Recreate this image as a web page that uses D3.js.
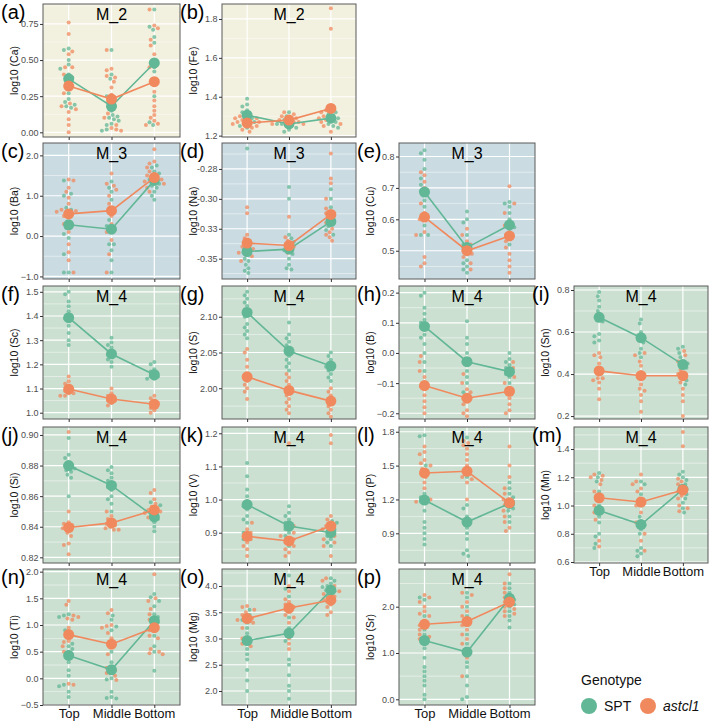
<!DOCTYPE html>
<html>
<head>
<meta charset="utf-8">
<script src="https://cdn.jsdelivr.net/npm/d3@7"></script>
<style>
  body { margin: 0; background: #fff; }
  svg { font-family: "Liberation Sans", Arial, Helvetica, sans-serif; }
</style>
</head>
<body>
<div id="chart"></div>
<script>
const cats = ["Top", "Middle", "Bottom"];
const genotypes = ["SPT", "astcl1"];

// individual samples, [Top, Middle, Bottom]; means [[SPT x3],[astcl1 x3]]
const Ca_SPT = [[0.58,0.57,0.50,0.47,0.44,0.40,0.38,0.37,0.35,0.27,0.23,0.21,0.19,0.18,0.17],
  [0.57,0.40,0.37,0.25,0.20,0.18,0.15,0.12,0.11,0.10,0.09,0.08,0.06,0.05,0.02,0.01],
  [0.85,0.73,0.71,0.66,0.62,0.50,0.48,0.45,0.42,0.37,0.33,0.25,0.07,0.05]]
const Ca_astcl1 = [[0.76,0.68,0.56,0.54,0.45,0.45,0.40,0.33,0.32,0.27,0.20,0.18,0.16,0.14,0.09,0.05,0.00],
  [0.57,0.44,0.43,0.39,0.38,0.35,0.31,0.26,0.23,0.21,0.13,0.10,0.05,0.03,0.02,0.01],
  [0.85,0.74,0.72,0.64,0.60,0.54,0.45,0.35,0.28,0.22,0.18,0.15,0.12,0.10,0.08,0.06,0.05]]
const Ca_mean = [[0.37,0.18,0.48],[0.32,0.23,0.35]]

const Fe_SPT = [[1.39,1.36,1.35,1.33,1.32,1.31,1.30,1.29,1.28,1.27,1.26,1.25,1.24],
  [1.32,1.30,1.29,1.28,1.27,1.26,1.26,1.25,1.24,1.23,1.22],
  [1.33,1.32,1.31,1.30,1.29,1.28,1.27,1.26,1.25,1.24]]
const Fe_astcl1 = [[1.30,1.29,1.29,1.28,1.27,1.27,1.26,1.26,1.25,1.24,1.23,1.22],
  [1.32,1.31,1.30,1.29,1.28,1.27,1.27,1.26,1.26,1.25],
  [1.855,1.75,1.33,1.32,1.30,1.29,1.28,1.27,1.26,1.25,1.22]]
const Fe_mean = [[1.305,1.26,1.29],[1.265,1.28,1.34]]

const Ba_SPT = [[1.38,1.05,1.0,0.7,0.65,0.3,0.2,0.05,-0.05,-0.45,-0.9,-0.9],
  [1.35,1.2,1.1,0.9,0.4,0.25,0.1,-0.2,-0.2,-0.35,-0.6,-0.9],
  [1.75,1.7,1.6,1.55,1.5,1.4,1.35,1.3,1.25,1.2,1.1,1.0,0.9]]
const Ba_astcl1 = [[1.40,1.38,1.2,1.1,0.95,0.8,0.65,0.62,0.6,0.55,0.5,0.3,0.1,-0.2,-0.4,-0.6,-0.9],
  [1.55,1.3,1.25,1.15,1.0,0.8,0.65,0.5,0.3,0.1,-0.1,-0.45,-0.9],
  [2.15,1.85,1.8,1.7,1.6,1.5,1.45,1.4,1.35,1.3,1.2,1.1]]
const Ba_mean = [[0.28,0.17,1.38],[0.55,0.63,1.45]]

const Na_SPT = [[-0.258,-0.335,-0.340,-0.342,-0.345,-0.347,-0.350,-0.352,-0.355,-0.358,-0.360,-0.362],
  [-0.290,-0.300,-0.330,-0.333,-0.336,-0.340,-0.343,-0.346,-0.350,-0.355,-0.358,-0.359],
  [-0.292,-0.300,-0.307,-0.312,-0.316,-0.320,-0.323,-0.326,-0.330]]
const Na_astcl1 = [[-0.307,-0.312,-0.330,-0.333,-0.338,-0.340,-0.342,-0.344,-0.345,-0.348,-0.352],
  [-0.315,-0.332,-0.335,-0.338,-0.340,-0.342,-0.345],
  [-0.262,-0.283,-0.287,-0.300,-0.308,-0.312,-0.315,-0.320,-0.325,-0.328,-0.330,-0.332,-0.335]]
const Na_mean = [[-0.344,-0.342,-0.319],[-0.337,-0.339,-0.313]]

const Cu_SPT = [[0.82,0.81,0.79,0.76,0.73,0.71,0.69,0.66,0.64,0.60,0.58,0.55,0.55],
  [0.625,0.60,0.59,0.55,0.52,0.51,0.49,0.47,0.46,0.45,0.44,0.43],
  [0.655,0.65,0.64,0.62,0.60,0.58,0.575,0.56,0.54,0.52]]
const Cu_astcl1 = [[0.75,0.74,0.72,0.70,0.65,0.62,0.60,0.56,0.55,0.48,0.46,0.45],
  [0.57,0.55,0.53,0.52,0.50,0.49,0.48,0.46,0.44],
  [0.705,0.65,0.62,0.58,0.55,0.53,0.51,0.49,0.47,0.45,0.43]]
const Cu_mean = [[0.687,0.51,0.582],[0.607,0.50,0.547]]

const Sc_SPT = [[1.50,1.49,1.46,1.44,1.42,1.40,1.39,1.38,1.36,1.33,1.30,1.28],
  [1.31,1.29,1.28,1.27,1.25,1.24,1.23,1.22,1.21,1.19],
  [1.21,1.20,1.18,1.17,1.16,1.15,1.15,1.14,1.14]]
const Sc_astcl1 = [[1.15,1.13,1.12,1.10,1.09,1.08,1.08,1.07,1.07],
  [1.10,1.08,1.07,1.06,1.05,1.05,1.04,1.03],
  [1.07,1.06,1.05,1.04,1.04,1.03,1.02,1.01,1.00]]
const Sc_mean = [[1.393,1.243,1.157],[1.098,1.057,1.035]]

const S_SPT = [[2.135,2.13,2.125,2.12,2.115,2.11,2.105,2.10,2.09,2.085,2.08,2.075,2.07],
  [2.092,2.075,2.07,2.065,2.06,2.055,2.05,2.045,2.04,2.035,2.03,2.025],
  [2.05,2.045,2.04,2.035,2.03,2.03,2.025,2.02,2.015,2.01]]
const S_astcl1 = [[2.055,2.05,2.04,2.03,2.02,2.015,2.01,2.005,2.00,1.995,1.985],
  [2.02,2.015,2.01,2.005,2.00,1.995,1.99,1.985,1.98,1.975,1.97,1.965],
  [2.00,1.995,1.99,1.985,1.98,1.975,1.97,1.965,1.96]]
const S_mean = [[2.106,2.052,2.031],[2.016,1.997,1.982]]

const B_SPT = [[0.20,0.19,0.15,0.13,0.11,0.10,0.08,0.06,0.05,0.03,0.00,-0.03,-0.06],
  [0.105,0.05,0.03,0.00,-0.02,-0.03,-0.04,-0.06,-0.08,-0.10,-0.13],
  [0.00,-0.02,-0.03,-0.04,-0.05,-0.06,-0.07,-0.08,-0.10]]
const B_astcl1 = [[-0.01,-0.03,-0.06,-0.08,-0.10,-0.11,-0.12,-0.14,-0.16,-0.18,-0.20],
  [-0.07,-0.10,-0.12,-0.13,-0.14,-0.15,-0.16,-0.17,-0.19,-0.20,-0.21],
  [-0.03,-0.05,-0.08,-0.10,-0.12,-0.13,-0.15,-0.17,-0.19,-0.20]]
const B_mean = [[0.088,-0.029,-0.062],[-0.108,-0.15,-0.127]]

const Sn_SPT = [[0.79,0.77,0.75,0.72,0.70,0.68,0.66,0.65,0.59,0.58,0.56,0.55],
  [0.66,0.64,0.60,0.58,0.57,0.56,0.55,0.52,0.50,0.48],
  [0.53,0.52,0.50,0.48,0.46,0.45,0.44,0.43,0.40,0.37,0.35]]
const Sn_astcl1 = [[0.50,0.49,0.48,0.45,0.43,0.40,0.38,0.38,0.37,0.36,0.33,0.28],
  [0.50,0.49,0.46,0.44,0.41,0.38,0.35,0.33,0.32,0.30,0.27,0.22],
  [0.51,0.49,0.46,0.42,0.40,0.38,0.36,0.33,0.30,0.27,0.20]]
const Sn_mean = [[0.67,0.573,0.445],[0.415,0.392,0.392]]

const Si_SPT = [[0.898,0.887,0.885,0.882,0.880,0.879,0.878,0.877,0.876,0.874,0.872,0.860],
  [0.879,0.877,0.875,0.872,0.870,0.868,0.866,0.864,0.860,0.858,0.855,0.850],
  [0.856,0.854,0.852,0.850,0.848,0.846,0.845,0.843,0.840,0.837]]
const Si_astcl1 = [[0.902,0.850,0.843,0.842,0.841,0.840,0.839,0.838,0.836,0.834,0.829,0.828,0.822],
  [0.850,0.847,0.845,0.843,0.842,0.841,0.840,0.839,0.838,0.838],
  [0.864,0.862,0.858,0.855,0.853,0.851,0.850,0.849,0.846]]
const Si_mean = [[0.880,0.867,0.8465],[0.8395,0.8425,0.851]]

const V_SPT = [[1.11,1.07,1.03,1.01,0.99,0.98,0.97,0.95,0.94,0.93,0.90,0.88],
  [0.98,0.96,0.95,0.94,0.93,0.92,0.91,0.90,0.89,0.88,0.86],
  [0.935,0.93,0.92,0.91,0.90,0.89,0.88,0.87,0.86]]
const V_astcl1 = [[0.93,0.91,0.90,0.89,0.88,0.87,0.86,0.85,0.83],
  [1.17,0.92,0.90,0.89,0.88,0.87,0.86,0.85,0.84,0.83],
  [1.195,1.17,0.95,0.94,0.92,0.91,0.89,0.88,0.87,0.86,0.83]]
const V_mean = [[0.985,0.92,0.90],[0.889,0.875,0.92]]

const P_SPT = [[1.77,1.76,1.50,1.25,1.22,1.20,1.18,1.10,1.00,0.95,0.90,0.85,0.80],
  [1.75,1.40,1.15,1.12,1.05,0.95,0.90,0.85,0.75,0.72,0.70],
  [1.35,1.30,1.25,1.22,1.20,1.18,1.15,1.12,1.10,1.05,1.00]]
const P_astcl1 = [[1.67,1.62,1.60,1.55,1.52,1.50,1.47,1.45,1.43,1.40,1.35,1.30,1.20,1.18],
  [1.72,1.70,1.68,1.65,1.60,1.55,1.50,1.45,1.40,1.38,1.35,1.20],
  [1.67,1.50,1.40,1.30,1.25,1.20,1.15,1.10,1.05,1.00,0.95,0.92]]
const P_mean = [[1.195,1.00,1.165],[1.435,1.45,1.17]]

const Mn_SPT = [[1.23,1.20,1.17,1.10,1.00,0.97,0.95,0.92,0.88,0.80,0.78,0.73,0.70],
  [1.17,1.15,1.08,1.00,0.92,0.88,0.86,0.83,0.80,0.70,0.68,0.66,0.64],
  [1.24,1.22,1.20,1.18,1.15,1.13,1.10,1.08,1.05,1.02,0.98,0.95]]
const Mn_astcl1 = [[1.22,1.21,1.20,1.18,1.15,1.10,1.05,1.00,0.95,0.90,0.75,0.71],
  [1.22,1.17,1.15,1.12,1.10,1.05,1.00,0.95,0.88,0.80,0.75,0.68],
  [1.52,1.42,1.19,1.17,1.15,1.12,1.10,1.07,1.05,1.00,0.98,0.96]]
const Mn_mean = [[0.965,0.865,1.115],[1.055,1.025,1.11]]

const Ti_SPT = [[1.20,1.18,1.15,0.90,0.65,0.60,0.55,0.50,0.30,0.15,0.05,-0.12,-0.15,-0.25,-0.35],
  [1.18,1.10,0.97,0.90,0.50,0.30,0.20,0.10,0.00,-0.02,-0.25,-0.35,-0.37,-0.38],
  [1.58,1.52,1.45,1.35,1.20,1.15,1.10,1.05,0.90,0.80,0.60,0.50,0.14]]
const Ti_astcl1 = [[1.45,1.38,1.18,1.15,1.12,1.10,0.95,0.85,0.70,0.68,0.60,0.50,0.42,-0.10,-0.12],
  [1.28,1.22,1.00,0.98,0.95,0.85,0.75,0.60,0.45,0.20,0.15,0.10,0.05,-0.03],
  [1.95,1.50,1.45,1.30,1.20,1.10,1.00,0.90,0.80,0.75,0.55,0.50,0.47,0.45]]
const Ti_mean = [[0.43,0.16,1.08],[0.82,0.64,0.95]]

const Mg_SPT = [[3.55,3.45,3.35,3.30,3.20,3.10,3.00,2.95,2.90,2.80,2.70,2.60,2.40,2.20,2.00],
  [4.20,3.95,3.80,3.60,3.40,3.20,3.10,2.95,2.60,2.50,2.30,2.10,2.00,1.85],
  [4.15,4.10,4.05,4.00,3.98,3.95,3.92,3.90,3.85,3.80,3.75]]
const Mg_astcl1 = [[3.62,3.60,3.55,3.50,3.45,3.40,3.38,3.35,3.30,3.20,3.00,2.90,2.85],
  [4.00,3.90,3.75,3.70,3.65,3.60,3.55,3.50,3.45,3.40,3.30,3.00,2.90,2.80],
  [4.15,4.10,4.00,3.90,3.85,3.80,3.75,3.70,3.65,3.60,3.50,3.45]]
const Mg_mean = [[2.96,3.10,3.92],[3.38,3.58,3.73]]

const Sr_SPT = [[2.20,2.15,1.80,1.60,1.50,1.40,1.30,1.20,1.10,0.90,0.70,0.60,0.50,0.40,0.30,0.10,0.00],
  [2.30,2.20,2.00,1.80,1.60,1.40,1.20,1.00,0.80,0.70,0.50,0.30,0.05,0.00],
  [2.50,2.40,2.30,2.20,2.15,2.10,2.05,2.00,1.90,1.80,1.70,1.55]]
const Sr_astcl1 = [[2.25,2.20,2.10,2.00,1.90,1.85,1.80,1.70,1.60,1.50,1.40,1.35,1.30],
  [2.30,2.25,2.10,2.00,1.90,1.80,1.70,1.60,1.50,1.40,1.30,1.20,0.90,0.50],
  [2.70,2.50,2.40,2.30,2.20,2.10,2.00,1.95,1.90,1.85,1.80]]
const Sr_mean = [[1.27,1.02,2.18],[1.62,1.68,2.10]]

const panels = [
  {tag:"a", el:"Ca", mod:"M_2", spt:Ca_SPT, ast:Ca_astcl1, mean:Ca_mean, dom:[-0.0325,0.888], ticks:[0,0.25,0.5,0.75], fmt:".2f", row:0, col:0},
  {tag:"b", el:"Fe", mod:"M_2", spt:Fe_SPT, ast:Fe_astcl1, mean:Fe_mean, dom:[1.193,1.877], ticks:[1.2,1.4,1.6,1.8], fmt:".1f", row:0, col:1},
  {tag:"c", el:"Ba", mod:"M_3", spt:Ba_SPT, ast:Ba_astcl1, mean:Ba_mean, dom:[-1.064,2.307], ticks:[-1,0,1,2], fmt:".1f", row:1, col:0},
  {tag:"d", el:"Na", mod:"M_3", spt:Na_SPT, ast:Na_astcl1, mean:Na_mean, dom:[-0.367,-0.2533], ticks:[-0.35,-0.325,-0.3,-0.275], labels:["-0.35","-0.33","-0.30","-0.28"], row:1, col:1},
  {tag:"e", el:"Cu", mod:"M_3", spt:Cu_SPT, ast:Cu_astcl1, mean:Cu_mean, dom:[0.41,0.843], ticks:[0.5,0.6,0.7,0.8], fmt:".1f", row:1, col:2},
  {tag:"f", el:"Sc", mod:"M_4", spt:Sc_SPT, ast:Sc_astcl1, mean:Sc_mean, dom:[0.974,1.524], ticks:[1.0,1.1,1.2,1.3,1.4,1.5], fmt:".1f", row:2, col:0},
  {tag:"g", el:"S", mod:"M_4", spt:S_SPT, ast:S_astcl1, mean:S_mean, dom:[1.957,2.143], ticks:[2.0,2.05,2.1], fmt:".2f", row:2, col:1},
  {tag:"h", el:"B", mod:"M_4", spt:B_SPT, ast:B_astcl1, mean:B_mean, dom:[-0.219,0.222], ticks:[-0.2,-0.1,0,0.1,0.2], fmt:".1f", row:2, col:2},
  {tag:"i", el:"Sn", mod:"M_4", spt:Sn_SPT, ast:Sn_astcl1, mean:Sn_mean, dom:[0.186,0.819], ticks:[0.2,0.4,0.6,0.8], fmt:".1f", row:2, col:3},
  {tag:"j", el:"Si", mod:"M_4", spt:Si_SPT, ast:Si_astcl1, mean:Si_mean, dom:[0.8163,0.9052], ticks:[0.82,0.84,0.86,0.88,0.90], fmt:".2f", row:3, col:0},
  {tag:"k", el:"V", mod:"M_4", spt:V_SPT, ast:V_astcl1, mean:V_mean, dom:[0.8085,1.219], ticks:[0.9,1.0,1.1,1.2], fmt:".1f", row:3, col:1},
  {tag:"l", el:"P", mod:"M_4", spt:P_SPT, ast:P_astcl1, mean:P_mean, dom:[0.637,1.842], ticks:[0.9,1.2,1.5,1.8], fmt:".1f", row:3, col:2},
  {tag:"m", el:"Mn", mod:"M_4", spt:Mn_SPT, ast:Mn_astcl1, mean:Mn_mean, dom:[0.593,1.556], ticks:[0.6,0.8,1.0,1.2,1.4], fmt:".1f", row:3, col:3, xlab:true},
  {tag:"n", el:"Ti", mod:"M_4", spt:Ti_SPT, ast:Ti_astcl1, mean:Ti_mean, dom:[-0.5,2.05], ticks:[-0.5,0,0.5,1,1.5,2], fmt:".1f", row:4, col:0, xlab:true},
  {tag:"o", el:"Mg", mod:"M_4", spt:Mg_SPT, ast:Mg_astcl1, mean:Mg_mean, dom:[1.733,4.324], ticks:[2,2.5,3,3.5,4], fmt:".1f", row:4, col:1, xlab:true},
  {tag:"p", el:"Sr", mod:"M_4", spt:Sr_SPT, ast:Sr_astcl1, mean:Sr_mean, dom:[-0.123,2.814], ticks:[0,1,2], fmt:".1f", row:4, col:2, xlab:true}
]

// layout
const colX0 = [43, 222, 399, 574], colX1 = [180, 356, 535, 708]
const rowY = [[4,137],[143,279],[286,419],[427,563],[569,705]]
const rowBg = ["#F2F0DE", "#CADBE2", "#CCE0D1", "#CCE0D1", "#CCE0D1"]
const colors = {SPT: "#62B796", astcl1: "#F0895E"}

const svg = d3.select("#chart").append("svg")
  .attr("width", 709).attr("height", 722)

function swarm(items, r) {
  // simple deterministic beeswarm: place each point at the smallest free offset
  const placed = []
  const d = 2 * r + 0.3
  items.slice().sort((a, b) => a.py - b.py).forEach(it => {
    let k = 0, dx = 0
    while (true) {
      dx = (k % 2 == 0 ? 1 : -1) * Math.ceil(k / 2) * 1.2
      const hit = placed.some(p => {
        const ddy = p.py - it.py, ddx = p.dx - dx
        return ddx * ddx + ddy * ddy < d * d
      })
      if (!hit) break
      k++
    }
    it.dx = dx
    placed.push(it)
  })
  return placed
}

panels.forEach(p => {
  const x0 = colX0[p.col], x1 = colX1[p.col]
  const [y0, y1] = rowY[p.row]
  const w = x1 - x0, h = y1 - y0
  const g = svg.append("g").attr("transform", "translate(" + x0 + "," + y0 + ")")
  const x = d3.scalePoint().domain(cats).range([0, w]).padding(0.6)
  const y = d3.scaleLinear().domain(p.dom).range([h, 0])

  g.append("rect").attr("width", w).attr("height", h).attr("fill", rowBg[p.row])

  // grid
  const step = p.ticks[1] - p.ticks[0]
  const minors = []
  for (let v = p.ticks[0] - step / 2; v <= p.dom[1]; v += step) if (v >= p.dom[0]) minors.push(v)
  g.selectAll(null).data(minors).enter().append("line")
    .attr("x1", 0).attr("x2", w).attr("y1", d => y(d)).attr("y2", d => y(d))
    .style("stroke", "#fff").style("stroke-width", 0.6).style("opacity", 0.8)
  g.selectAll(null).data(p.ticks).enter().append("line")
    .attr("x1", 0).attr("x2", w).attr("y1", d => y(d)).attr("y2", d => y(d))
    .style("stroke", "#fff").style("stroke-width", 1.2)
  g.selectAll(null).data(cats).enter().append("line")
    .attr("x1", d => x(d)).attr("x2", d => x(d)).attr("y1", 0).attr("y2", h)
    .style("stroke", "#fff").style("stroke-width", 1.2)

  // points
  cats.forEach((c, ci) => {
    const items = []
    p.spt[ci].forEach(v => items.push({v: v, gt: "SPT", py: y(v)}))
    p.ast[ci].forEach(v => items.push({v: v, gt: "astcl1", py: y(v)}))
    const pts = swarm(items, 2)
    g.selectAll(null).data(pts).enter().append("circle")
      .attr("cx", d => x(c) + d.dx).attr("cy", d => d.py).attr("r", 2)
      .style("fill", d => colors[d.gt]).style("opacity", 0.75)
  })

  // means
  genotypes.forEach((gt, gi) => {
    const m = p.mean[gi].map((v, i) => [cats[i], v])
    g.append("path").datum(m)
      .attr("d", d3.line().x(d => x(d[0])).y(d => y(d[1])))
      .style("fill", "none").style("stroke", colors[gt]).style("stroke-width", 1.6)
    g.selectAll(null).data(m).enter().append("circle")
      .attr("cx", d => x(d[0])).attr("cy", d => y(d[1])).attr("r", 5.5)
      .style("fill", colors[gt])
  })

  g.append("rect").attr("width", w).attr("height", h)
    .style("fill", "none").style("stroke", "#5a5a5a").style("stroke-width", 1)

  // axes
  const fmt = p.labels ? (d, i) => p.labels[i] : d3.format(p.fmt)
  const ya = g.append("g").call(d3.axisLeft(y).tickValues(p.ticks).tickFormat(fmt).tickSize(3).tickPadding(1.5))
  ya.select(".domain").remove()
  ya.selectAll("line").style("stroke", "#333")
  ya.selectAll("text").style("font-size", "9px").style("fill", "#4d4d4d")

  const xa = g.append("g").attr("transform", "translate(0," + h + ")")
    .call(d3.axisBottom(x).tickSize(3).tickPadding(1).tickFormat(p.xlab ? d => d : ""))
  xa.select(".domain").remove()
  xa.selectAll("line").style("stroke", "#333")
  xa.selectAll("text").style("font-size", "13px").style("fill", "#111")

  g.append("text").attr("x", w / 2).attr("y", 16).attr("text-anchor", "middle")
    .style("font-size", "16px").style("fill", "#000").text(p.mod)

  g.append("text").attr("transform", "translate(-25," + h / 2 + ") rotate(-90)")
    .attr("text-anchor", "middle").style("font-size", "10.5px").style("fill", "#111")
    .text("log10 (" + p.el + ")")

  svg.append("text").attr("x", x0 - 42).attr("y", y0 + 15)
    .style("font-size", "20px").style("fill", "#000").text("(" + p.tag + ")")
})

// legend
const lg = svg.append("g")
lg.append("text").attr("x", 581).attr("y", 685).style("font-size", "14px").style("fill", "#111").text("Genotype")
const lx = [589, 648]
genotypes.forEach((gt, i) => {
  lg.append("circle").attr("cx", lx[i]).attr("cy", 706).attr("r", 8).style("fill", colors[gt])
  lg.append("text").attr("x", lx[i] + 15).attr("y", 711).style("font-size", "14px")
    .style("font-style", gt == "astcl1" ? "italic" : "normal").style("fill", "#111").text(gt)
})
</script>
</body>
</html>
